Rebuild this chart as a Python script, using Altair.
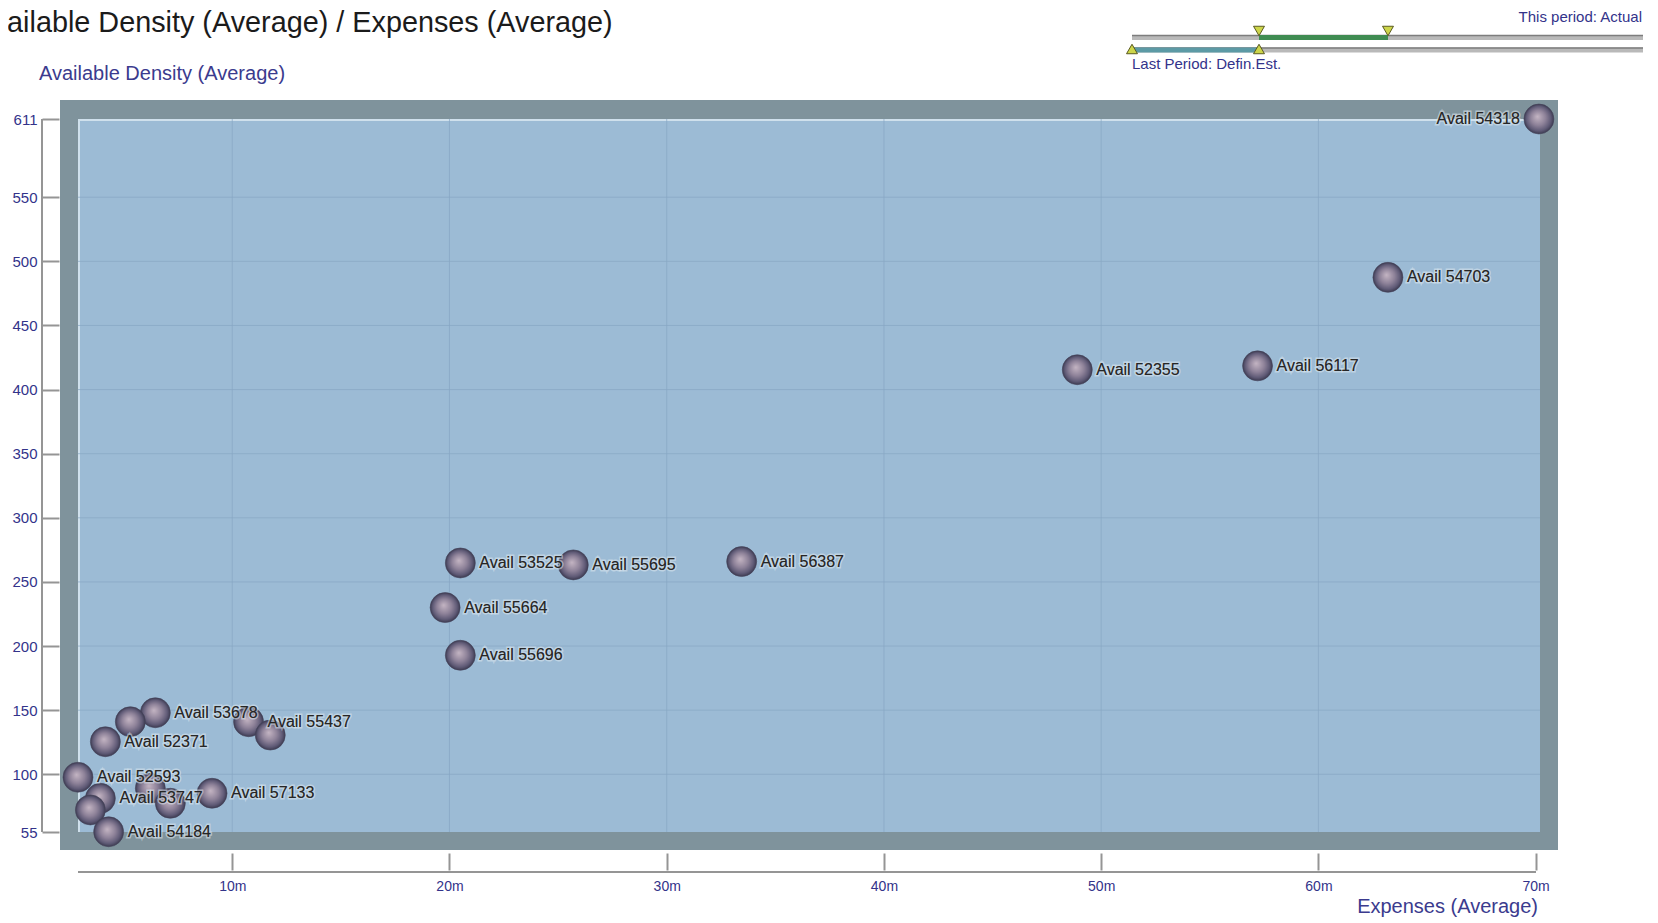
import altair as alt
import pandas as pd

# ---------------- data ----------------
names = ["Avail 54318", "Avail 54703", "Avail 52355", "Avail 56117", "Avail 53525",
         "Avail 55695", "Avail 56387", "Avail 55664", "Avail 55696", "Avail 53678",
         "", "Avail 52371", "Avail 55437", "", "Avail 52593",
         "", "Avail 53747", "", "", "Avail 57133", "Avail 54184"]
expenses = [70.15, 63.2, 48.9, 57.2, 20.5,
            25.7, 33.45, 19.8, 20.5, 6.46,
            5.31, 4.16, 10.75, 11.75, 2.9,
            6.23, 3.93, 3.47, 7.15, 9.07, 4.31]
density = [611, 487.5, 415.5, 418.5, 264.8,
           263.3, 265.9, 230.0, 192.8, 148.0,
           141.0, 125.4, 141.0, 130.6, 97.7,
           89.1, 81.3, 72.2, 77.4, 85.2, 55.2]

x_ticks = [10, 20, 30, 40, 50, 60, 70]
y_ticks = [55, 100, 150, 200, 250, 300, 350, 400, 450, 500, 550, 611]

title_text = "Available Density (Average) / Expenses (Average)"
y_title = "Available Density (Average)"
x_title = "Expenses (Average)"
slider_top_text = "This period: Actual"
slider_bottom_text = "Last Period: Defin.Est."

# ---------------- layout ----------------
W, H = 1462, 713
X_DOMAIN = [2.9, 70.2]
Y_DOMAIN = [55, 611]
FONT = "Liberation Sans, Arial, sans-serif"
NAVY = "#33338a"

df = pd.DataFrame({"name": names, "expenses": expenses, "density": density})
df["left_side"] = df["expenses"] >= max(expenses)
one = pd.DataFrame({"k": [0]})

xs = alt.Scale(domain=X_DOMAIN, nice=False, zero=False)
ys = alt.Scale(domain=Y_DOMAIN, nice=False, zero=False)

X_AXIS = alt.Axis(values=x_ticks, labelExpr="datum.value + 'm'",
                  orient="bottom", offset=21, tickSize=17,
                  tickColor="#959595", tickWidth=2, domain=False,
                  grid=False, labelFont=FONT, labelFontSize=14,
                  labelColor=NAVY, labelPadding=9, labelOverlap=False,
                  title=None)
Y_AXIS = alt.Axis(values=y_ticks, format="d", orient="left",
                  offset=19, tickSize=17, tickColor="#959595",
                  tickWidth=2, domain=False, grid=False,
                  labelFont=FONT, labelFontSize=15, labelColor=NAVY,
                  labelPadding=5, labelOverlap=False, title=None)


def rect(x, x2, y, y2, color):
    return alt.Chart(one).mark_rect(fill=color).encode(
        x=alt.value(x), x2=alt.value(x2), y=alt.value(y), y2=alt.value(y2))


def hline(x, x2, y, color, w):
    return alt.Chart(one).mark_rule(color=color, strokeWidth=w).encode(
        x=alt.value(x), x2=alt.value(x2), y=alt.value(y))


def vline(x, y, y2, color, w):
    return alt.Chart(one).mark_rule(color=color, strokeWidth=w).encode(
        x=alt.value(x), y=alt.value(y), y2=alt.value(y2))


def label(text, x, y, size, color, align="left"):
    return alt.Chart(one).mark_text(
        text=text, align=align, baseline="middle", font=FONT,
        fontSize=size, color=color).encode(x=alt.value(x), y=alt.value(y))


def tri(x, y, shape):
    return alt.Chart(one).mark_point(
        shape=shape, size=120, filled=True, fill="#cdd64a", stroke="#59591f",
        strokeWidth=1, opacity=1).encode(x=alt.value(x), y=alt.value(y))


# background walls
frame = rect(-18, W + 18, -19, H + 18, "#7f939c")
panel = rect(0, W, 0, H, "#9cbbd5")
edge_top = hline(0, W, 1, "#cfe0ec", 2)
edge_left = vline(1, 0, H, "#cfe0ec", 2)

# grid
xgrid = alt.Chart(pd.DataFrame({"v": x_ticks[:-1]})).mark_rule(
    color="#87a7c3", strokeWidth=1, opacity=0.7).encode(
    x=alt.X("v:Q", scale=xs, axis=X_AXIS), y=alt.value(0), y2=alt.value(H))
ygrid = alt.Chart(pd.DataFrame({"v": y_ticks[1:-1]})).mark_rule(
    color="#87a7c3", strokeWidth=1, opacity=0.7).encode(
    y=alt.Y("v:Q", scale=ys, axis=Y_AXIS), x=alt.value(0), x2=alt.value(W))

# axes lines (drawn away from the panel, like the reference)
y_axis_line = vline(-36, 0, H, "#959595", 2)
x_axis_line = hline(0, W - 4, H + 40, "#959595", 2)

sphere = alt.RadialGradient(
    gradient="radial",
    stops=[alt.GradientStop(color="#c4b5c3", offset=0),
           alt.GradientStop(color="#8e8299", offset=0.5),
           alt.GradientStop(color="#5f5a76", offset=0.82),
           alt.GradientStop(color="#3c3a50", offset=1)],
    x1=0.45, y1=0.42, r1=0, x2=0.5, y2=0.5, r2=0.5)

base = alt.Chart(df)
ENC = dict(x=alt.X("expenses:Q", scale=xs, axis=X_AXIS),
           y=alt.Y("density:Q", scale=ys, axis=Y_AXIS))

points = base.mark_circle(size=900, fill=sphere, opacity=1,
                          stroke="#45435a", strokeWidth=0.6).encode(**ENC)

right_df = base.transform_filter("!datum.left_side")
left_df = base.transform_filter("datum.left_side")


def point_labels(src, align, dx):
    halo = src.mark_text(align=align, baseline="middle", dx=dx, font=FONT,
                         fontSize=16, color="#2a2a2a", stroke="#dfe9f1",
                         strokeWidth=3, strokeOpacity=0.55).encode(
        text="name:N", **ENC)
    txt = src.mark_text(align=align, baseline="middle", dx=dx, font=FONT,
                        fontSize=16, color="#262626").encode(
        text="name:N", **ENC)
    return [halo, txt]


labels = point_labels(right_df, "left", 19) + point_labels(left_df, "right", -19)

# titles
main_title = label(title_text, -104, -96, 28.8, "#1b1b1b")
ytitle = label(y_title, -39, -45, 20, "#3b3b8e")
xtitle = label(x_title, W - 2, H + 75, 20, "#3b3b8e", align="right")

# period slider (top right)
slider = [
    hline(1054, 1565, -81.5, "#b9b9b9", 5),
    hline(1054, 1565, -83.5, "#7d7d7d", 1.5),
    hline(1181, 1310, -81.5, "#3f8c52", 5),
    hline(1054, 1565, -69, "#b9b9b9", 5),
    hline(1054, 1565, -71, "#7d7d7d", 1.5),
    hline(1054, 1181, -69, "#5c9aa5", 5),
    tri(1181, -88, "triangle-down"),
    tri(1310, -88, "triangle-down"),
    tri(1054, -70, "triangle-up"),
    tri(1181, -70, "triangle-up"),
    label(slider_top_text, 1564, -102.5, 15, NAVY, align="right"),
    label(slider_bottom_text, 1054, -55, 15, NAVY),
]

chart = alt.layer(
    frame, panel, edge_top, edge_left, xgrid, ygrid,
    y_axis_line, x_axis_line, points, *labels,
    main_title, ytitle, xtitle, *slider,
).properties(
    width=W, height=H,
    autosize=alt.AutoSizeParams(type="none"),
    padding={"left": 70, "top": 111, "right": 110, "bottom": 90},
).configure_view(stroke=None)

chart.save("out.html", embed_options={"renderer": "svg", "actions": False})
